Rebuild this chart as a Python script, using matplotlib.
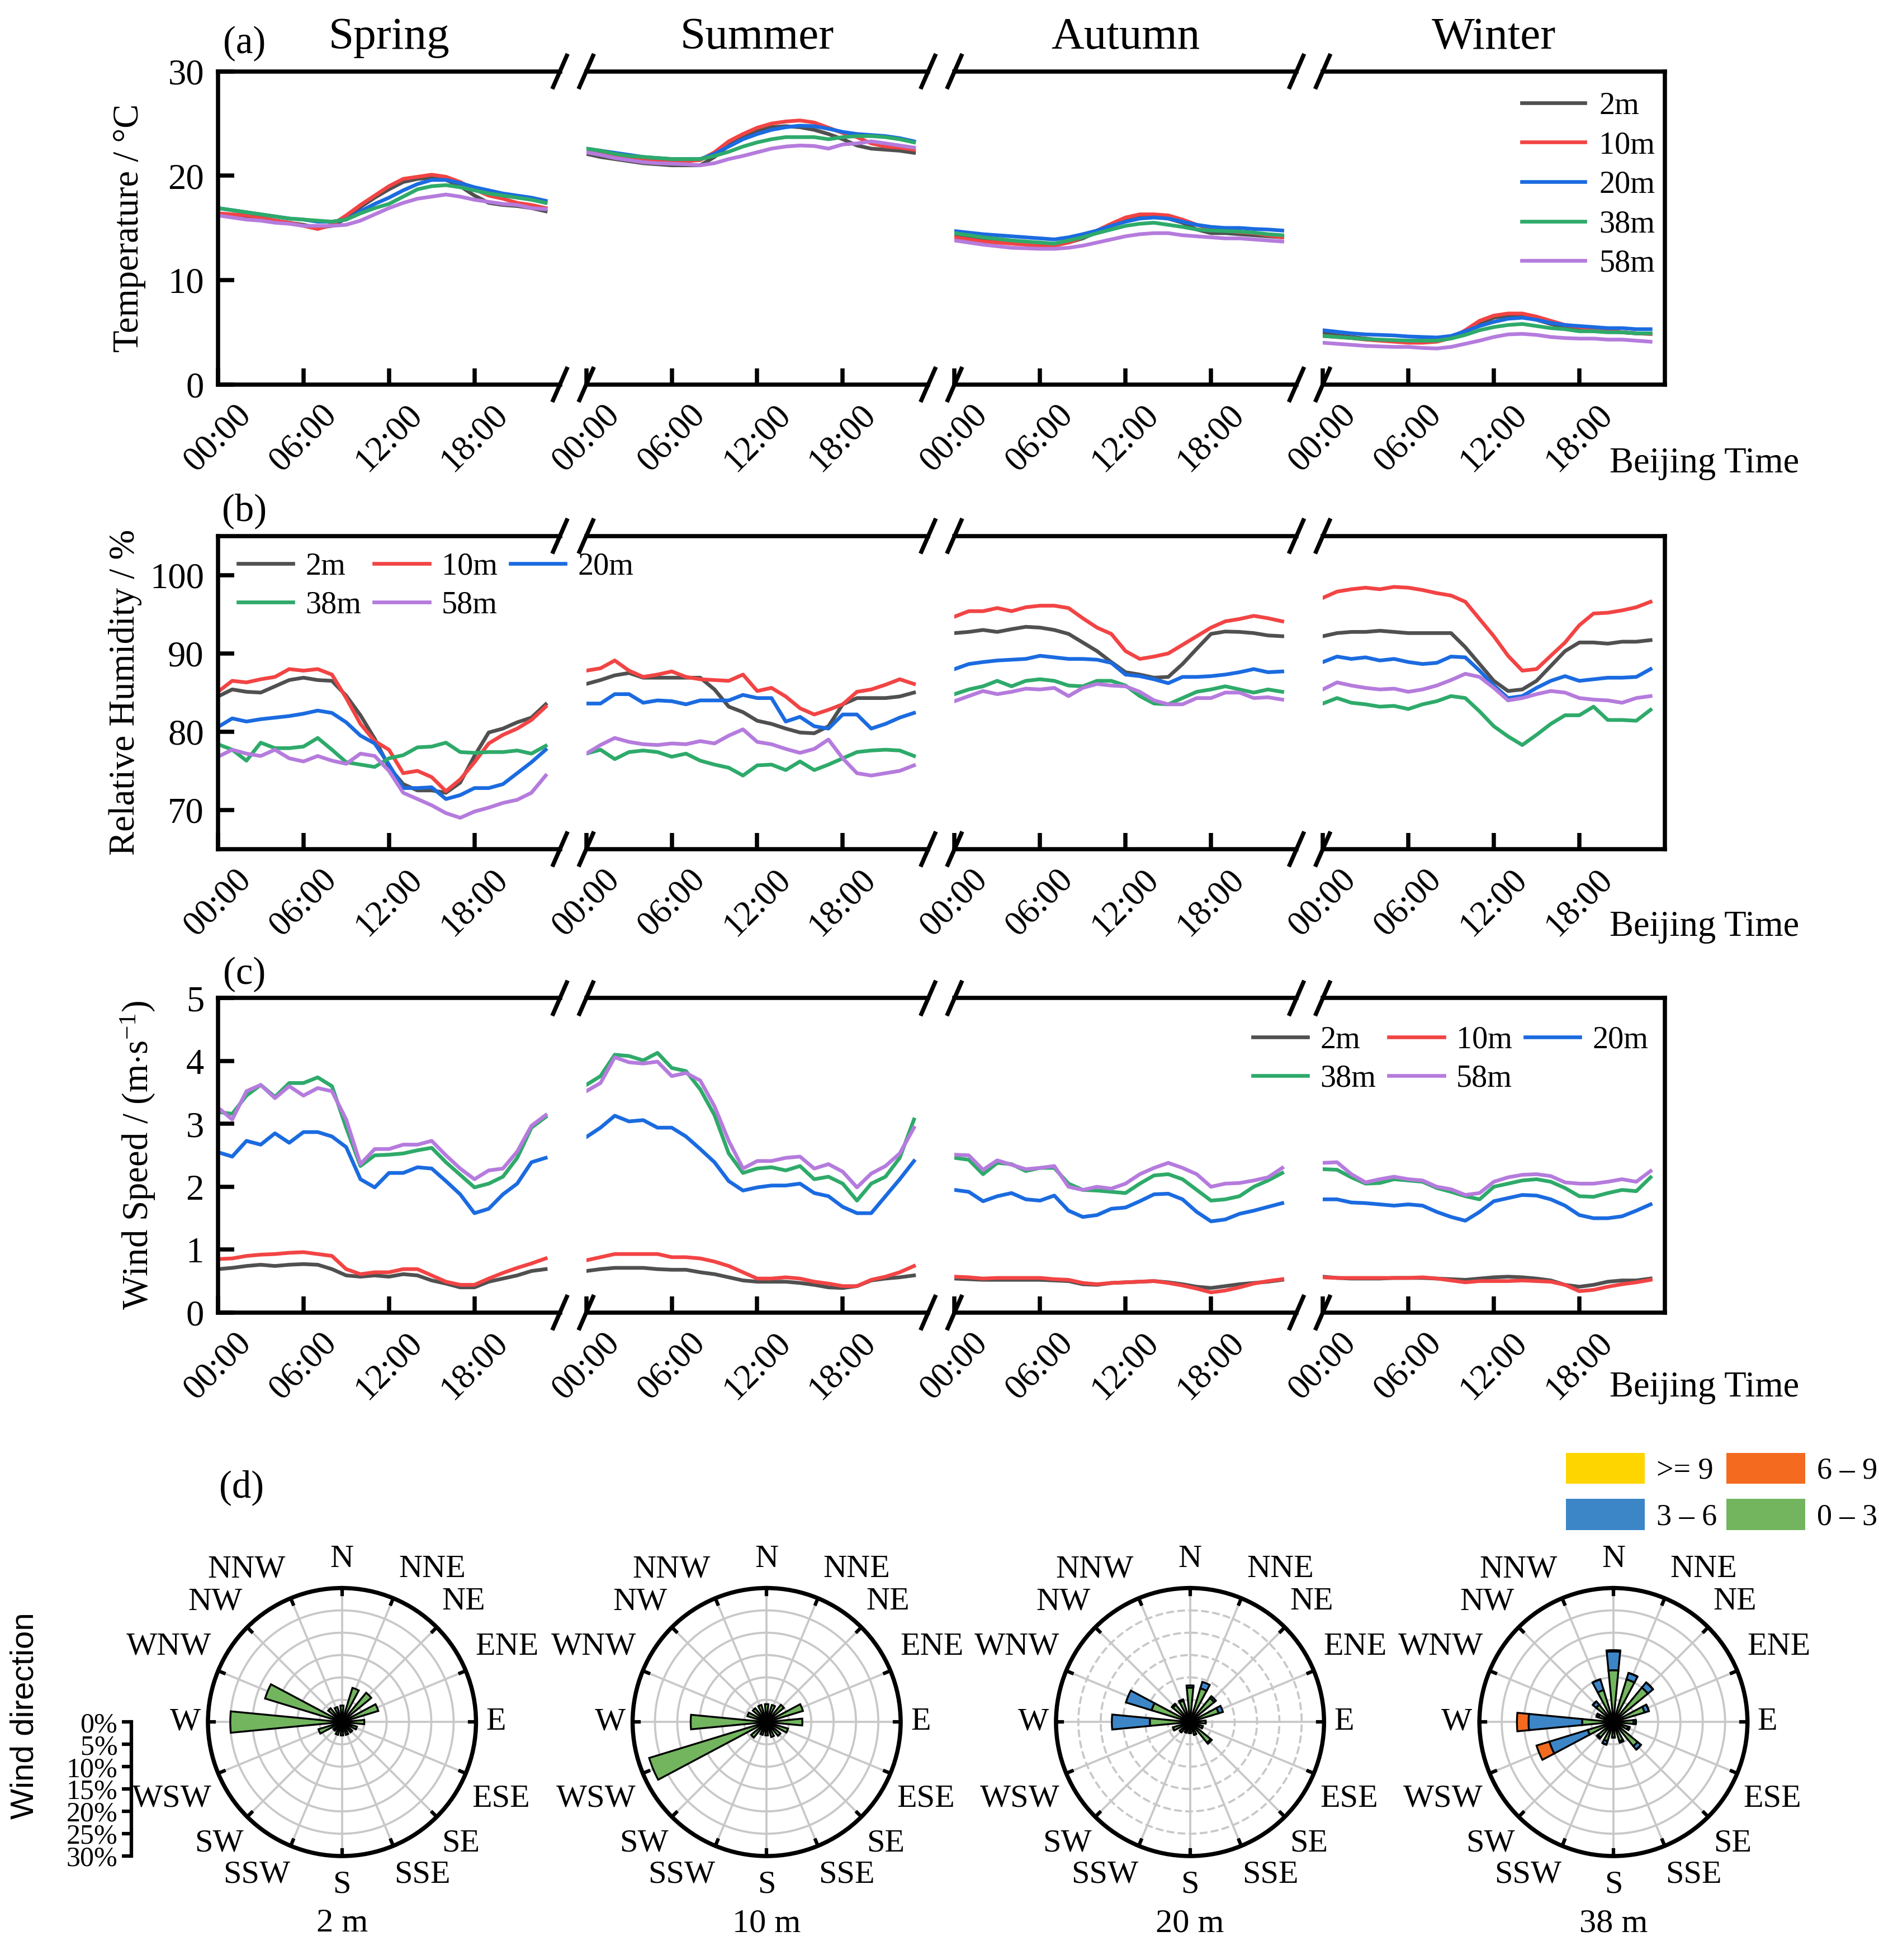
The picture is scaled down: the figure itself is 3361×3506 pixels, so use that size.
import numpy as np
import matplotlib
matplotlib.use("Agg")
import matplotlib.pyplot as plt
from matplotlib.patches import Patch

plt.rcParams.update({
    "font.family": "serif",
    "font.serif": ["Liberation Serif", "DejaVu Serif"],
    "mathtext.fontset": "custom",
    "mathtext.rm": "Liberation Serif",
    "mathtext.it": "Liberation Serif:italic",
    "font.size": 14,
    "axes.linewidth": 1.8,
})

# ---------------- data ----------------
HOURS = np.arange(24)
SEASONS = ["Spring", "Summer", "Autumn", "Winter"]
HEIGHTS = ["2m", "10m", "20m", "38m", "58m"]
COLORS = ["#505050", "#F24444", "#1B6BE0", "#2EAA6A", "#B57BDD"]
TIME_LABELS = ["00:00", "06:00", "12:00", "18:00"]

# temperature (degC), rows = 2m, 10m, 20m, 38m, 58m
T_SPRING = [
    [16.3, 16.2, 16.1, 15.9, 15.7, 15.5, 15.3, 15.0, 15.2, 15.9, 17.0, 17.9, 18.7, 19.4, 19.7, 19.8, 19.6, 19.0, 18.1, 17.4, 17.2, 17.1, 16.9, 16.6],
    [16.4, 16.3, 16.2, 16.0, 15.7, 15.5, 15.2, 14.9, 15.3, 16.2, 17.2, 18.1, 19.0, 19.7, 19.9, 20.1, 19.9, 19.4, 18.7, 18.1, 17.8, 17.4, 17.2, 16.9],
    [16.9, 16.7, 16.5, 16.3, 16.1, 15.9, 15.8, 15.6, 15.6, 15.8, 16.6, 17.3, 17.9, 18.6, 19.2, 19.6, 19.6, 19.3, 18.9, 18.6, 18.3, 18.1, 17.9, 17.6],
    [16.9, 16.7, 16.5, 16.3, 16.1, 15.9, 15.8, 15.7, 15.6, 15.8, 16.4, 16.9, 17.3, 18.0, 18.7, 19.0, 19.1, 18.9, 18.6, 18.3, 18.1, 17.9, 17.7, 17.4],
    [16.2, 16.0, 15.8, 15.7, 15.5, 15.4, 15.2, 15.2, 15.2, 15.3, 15.7, 16.3, 16.9, 17.4, 17.8, 18.0, 18.2, 18.0, 17.7, 17.5, 17.3, 17.2, 16.9, 16.8],
]
T_SUMMER = [
    [22.1, 21.8, 21.6, 21.4, 21.2, 21.1, 21.0, 21.0, 21.0, 21.8, 22.9, 23.7, 24.3, 24.65, 24.75, 24.65, 24.4, 24.0, 23.5, 22.9, 22.6, 22.5, 22.4, 22.2],
    [22.3, 22.1, 21.9, 21.7, 21.6, 21.5, 21.4, 21.4, 21.5, 22.25, 23.3, 24.0, 24.6, 25.0, 25.2, 25.3, 25.1, 24.6, 24.1, 23.7, 23.1, 22.8, 22.7, 22.5],
    [22.6, 22.4, 22.2, 22.0, 21.8, 21.7, 21.6, 21.6, 21.6, 22.1, 22.8, 23.5, 24.0, 24.4, 24.65, 24.8, 24.75, 24.5, 24.2, 24.0, 23.9, 23.8, 23.6, 23.3],
    [22.6, 22.4, 22.1, 21.9, 21.8, 21.7, 21.6, 21.6, 21.6, 21.9, 22.3, 22.8, 23.2, 23.5, 23.7, 23.7, 23.7, 23.5, 23.7, 23.8, 23.8, 23.7, 23.5, 23.2],
    [22.25, 22.0, 21.7, 21.5, 21.3, 21.2, 21.15, 21.1, 21.0, 21.2, 21.6, 21.9, 22.25, 22.6, 22.8, 22.9, 22.85, 22.6, 23.0, 23.1, 23.3, 23.1, 22.9, 22.7],
]
T_AUTUMN = [
    [14.3, 14.1, 13.9, 13.8, 13.6, 13.5, 13.4, 13.4, 13.6, 14.0, 14.6, 15.2, 15.8, 16.1, 16.1, 15.9, 15.5, 14.85, 14.5, 14.5, 14.4, 14.3, 14.2, 14.1],
    [14.1, 13.9, 13.7, 13.6, 13.5, 13.4, 13.3, 13.3, 13.6, 14.1, 14.75, 15.4, 16.0, 16.3, 16.3, 16.2, 15.8, 15.3, 14.9, 14.75, 14.6, 14.5, 14.3, 14.1],
    [14.7, 14.55, 14.4, 14.3, 14.2, 14.1, 14.0, 13.9, 14.1, 14.4, 14.75, 15.2, 15.6, 15.9, 16.0, 15.9, 15.6, 15.3, 15.1, 15.0, 15.0, 14.9, 14.85, 14.75],
    [14.5, 14.3, 14.1, 13.95, 13.8, 13.7, 13.6, 13.5, 13.8, 14.1, 14.5, 14.85, 15.2, 15.4, 15.5, 15.3, 15.1, 14.85, 14.75, 14.7, 14.65, 14.55, 14.4, 14.3],
    [13.8, 13.6, 13.4, 13.25, 13.1, 13.05, 13.0, 13.0, 13.1, 13.3, 13.6, 13.9, 14.2, 14.4, 14.5, 14.5, 14.3, 14.2, 14.1, 14.0, 14.0, 13.9, 13.8, 13.7],
]
T_WINTER = [
    [4.9, 4.7, 4.55, 4.4, 4.25, 4.2, 4.1, 4.1, 4.2, 4.45, 5.0, 5.8, 6.4, 6.6, 6.5, 6.2, 5.8, 5.5, 5.3, 5.1, 5.1, 5.0, 4.9, 4.85],
    [4.65, 4.55, 4.45, 4.3, 4.2, 4.1, 4.0, 4.0, 4.1, 4.45, 5.2, 6.1, 6.6, 6.8, 6.8, 6.5, 6.1, 5.7, 5.5, 5.3, 5.2, 5.0, 4.9, 4.85],
    [5.2, 5.05, 4.9, 4.8, 4.75, 4.7, 4.6, 4.55, 4.5, 4.65, 5.1, 5.6, 6.0, 6.3, 6.4, 6.2, 5.9, 5.7, 5.6, 5.5, 5.4, 5.4, 5.3, 5.3],
    [4.65, 4.55, 4.45, 4.35, 4.3, 4.25, 4.2, 4.2, 4.2, 4.4, 4.75, 5.2, 5.5, 5.7, 5.8, 5.6, 5.4, 5.3, 5.1, 5.1, 5.0, 5.0, 4.9, 4.9],
    [4.0, 3.9, 3.8, 3.7, 3.65, 3.6, 3.6, 3.5, 3.45, 3.6, 3.9, 4.2, 4.55, 4.8, 4.85, 4.75, 4.55, 4.45, 4.4, 4.4, 4.3, 4.3, 4.2, 4.1],
]

# relative humidity (%)
RH_SPRING = [
    [84.5, 85.4, 85.1, 85.0, 85.8, 86.6, 86.9, 86.6, 86.5, 84.6, 82.1, 79.1, 75.5, 73.3, 72.5, 72.5, 72.2, 73.5, 76.9, 79.9, 80.4, 81.2, 81.8, 83.5],
    [85.1, 86.5, 86.3, 86.7, 87.0, 88.0, 87.8, 88.0, 87.3, 84.3, 81.0, 78.8, 77.7, 74.7, 75.0, 74.2, 72.4, 73.9, 76.1, 78.5, 79.6, 80.4, 81.5, 83.2],
    [80.6, 81.7, 81.3, 81.6, 81.8, 82.0, 82.3, 82.7, 82.4, 81.2, 79.5, 78.5, 75.8, 72.8, 72.8, 72.9, 71.4, 71.9, 72.8, 72.8, 73.3, 74.7, 76.1, 77.7],
    [78.4, 77.7, 76.3, 78.6, 77.9, 77.9, 78.1, 79.2, 77.7, 76.1, 75.8, 75.5, 76.6, 77.0, 78.0, 78.1, 78.6, 77.4, 77.3, 77.4, 77.4, 77.6, 77.2, 78.2],
    [76.8, 77.7, 77.2, 76.9, 77.7, 76.6, 76.2, 76.9, 76.3, 75.9, 77.2, 76.9, 75.0, 72.2, 71.4, 70.6, 69.6, 69.0, 69.8, 70.3, 70.9, 71.3, 72.2, 74.4],
]
RH_SUMMER = [
    [86.1, 86.6, 87.2, 87.5, 86.9, 86.9, 86.9, 86.9, 86.9, 85.4, 83.2, 82.5, 81.4, 81.0, 80.4, 79.9, 79.8, 80.7, 83.5, 84.3, 84.3, 84.3, 84.5, 85.0],
    [87.8, 88.1, 89.1, 87.8, 87.0, 87.3, 87.7, 87.0, 86.7, 86.6, 86.5, 87.3, 85.2, 85.6, 84.5, 83.0, 82.2, 82.8, 83.5, 85.1, 85.4, 86.0, 86.7, 86.1],
    [83.6, 83.6, 84.8, 84.8, 83.7, 84.0, 83.9, 83.5, 84.0, 84.0, 84.0, 84.7, 84.3, 84.3, 81.3, 81.9, 80.7, 80.4, 82.2, 82.2, 80.4, 81.0, 81.8, 82.4],
    [77.2, 77.7, 76.5, 77.4, 77.6, 77.4, 76.8, 77.2, 76.3, 75.8, 75.4, 74.4, 75.7, 75.8, 75.1, 76.2, 75.1, 75.8, 76.6, 77.4, 77.6, 77.7, 77.6, 76.9],
    [77.2, 78.3, 79.2, 78.7, 78.4, 78.3, 78.5, 78.4, 78.8, 78.5, 79.5, 80.3, 78.7, 78.4, 77.8, 77.3, 77.8, 79.0, 76.6, 74.7, 74.4, 74.7, 75.0, 75.7],
]
RH_AUTUMN = [
    [92.6, 92.75, 93.0, 92.75, 93.1, 93.4, 93.3, 93.0, 92.5, 91.4, 90.3, 88.9, 87.6, 87.3, 86.9, 87.0, 88.65, 90.6, 92.5, 92.8, 92.75, 92.6, 92.3, 92.2],
    [94.7, 95.4, 95.4, 95.8, 95.4, 95.9, 96.1, 96.1, 95.8, 94.5, 93.3, 92.5, 90.3, 89.3, 89.6, 90.0, 91.1, 92.2, 93.3, 94.1, 94.4, 94.8, 94.5, 94.1],
    [88.0, 88.65, 88.9, 89.1, 89.2, 89.3, 89.7, 89.5, 89.3, 89.3, 89.2, 88.8, 87.3, 87.1, 86.7, 86.2, 87.0, 87.0, 87.1, 87.3, 87.6, 88.0, 87.6, 87.7],
    [84.8, 85.4, 85.8, 86.5, 85.8, 86.5, 86.7, 86.5, 85.9, 85.8, 86.5, 86.5, 85.9, 84.55, 83.6, 83.5, 84.3, 85.1, 85.4, 85.8, 85.4, 85.0, 85.4, 85.1],
    [83.9, 84.55, 85.2, 84.8, 85.1, 85.5, 85.4, 85.6, 84.55, 85.6, 86.1, 85.9, 85.8, 85.1, 84.0, 83.5, 83.5, 84.3, 84.3, 85.0, 85.0, 84.3, 84.4, 84.1],
]
RH_WINTER = [
    [92.2, 92.6, 92.75, 92.75, 92.9, 92.75, 92.6, 92.6, 92.6, 92.6, 90.8, 88.65, 86.5, 85.2, 85.4, 86.5, 88.4, 90.3, 91.4, 91.4, 91.25, 91.5, 91.5, 91.7],
    [97.1, 97.9, 98.2, 98.4, 98.2, 98.5, 98.4, 98.1, 97.7, 97.4, 96.6, 94.4, 92.2, 89.7, 87.8, 88.0, 89.7, 91.4, 93.6, 95.1, 95.2, 95.5, 95.9, 96.6],
    [88.9, 89.6, 89.3, 89.5, 89.1, 89.3, 88.9, 88.65, 88.8, 89.6, 89.5, 87.8, 85.9, 84.3, 84.55, 85.6, 86.5, 87.1, 86.5, 86.7, 86.9, 86.9, 87.0, 88.0],
    [83.6, 84.3, 83.7, 83.5, 83.2, 83.3, 82.9, 83.5, 83.9, 84.55, 84.3, 82.6, 80.7, 79.4, 78.3, 79.6, 81.0, 82.1, 82.1, 83.2, 81.5, 81.5, 81.4, 82.8],
    [85.4, 86.3, 85.9, 85.6, 85.4, 85.5, 85.1, 85.4, 85.9, 86.6, 87.4, 87.0, 85.6, 84.0, 84.3, 84.8, 85.2, 85.0, 84.3, 84.1, 84.0, 83.7, 84.3, 84.55],
]

# wind speed (m/s)
WS_SPRING = [
    [0.69, 0.71, 0.74, 0.76, 0.74, 0.76, 0.77, 0.76, 0.69, 0.59, 0.57, 0.59, 0.57, 0.61, 0.59, 0.51, 0.46, 0.40, 0.40, 0.49, 0.54, 0.59, 0.66, 0.69],
    [0.85, 0.86, 0.90, 0.92, 0.93, 0.95, 0.96, 0.93, 0.90, 0.69, 0.61, 0.64, 0.64, 0.69, 0.69, 0.59, 0.49, 0.44, 0.44, 0.54, 0.63, 0.71, 0.78, 0.86],
    [2.55, 2.48, 2.73, 2.67, 2.85, 2.70, 2.87, 2.87, 2.80, 2.63, 2.12, 1.99, 2.22, 2.22, 2.31, 2.29, 2.09, 1.88, 1.58, 1.65, 1.88, 2.05, 2.39, 2.46],
    [3.19, 3.16, 3.45, 3.62, 3.43, 3.65, 3.65, 3.74, 3.60, 2.94, 2.33, 2.50, 2.51, 2.53, 2.58, 2.62, 2.39, 2.19, 1.99, 2.05, 2.16, 2.46, 2.94, 3.11],
    [3.26, 3.07, 3.52, 3.62, 3.41, 3.60, 3.45, 3.57, 3.52, 3.07, 2.36, 2.60, 2.60, 2.67, 2.67, 2.73, 2.50, 2.29, 2.12, 2.26, 2.29, 2.56, 2.97, 3.14],
]
WS_SUMMER = [
    [0.66, 0.69, 0.71, 0.71, 0.71, 0.69, 0.68, 0.68, 0.64, 0.61, 0.56, 0.51, 0.49, 0.49, 0.49, 0.47, 0.44, 0.40, 0.39, 0.42, 0.51, 0.54, 0.56, 0.59],
    [0.83, 0.88, 0.93, 0.93, 0.93, 0.93, 0.88, 0.88, 0.86, 0.81, 0.74, 0.64, 0.54, 0.54, 0.56, 0.54, 0.49, 0.46, 0.42, 0.42, 0.52, 0.57, 0.64, 0.74],
    [2.79, 2.94, 3.13, 3.04, 3.06, 2.94, 2.94, 2.80, 2.60, 2.39, 2.09, 1.94, 1.99, 2.02, 2.02, 2.05, 1.90, 1.85, 1.68, 1.58, 1.58, 1.85, 2.12, 2.41],
    [3.62, 3.76, 4.10, 4.08, 4.01, 4.13, 3.89, 3.84, 3.55, 3.14, 2.53, 2.22, 2.29, 2.31, 2.26, 2.33, 2.12, 2.16, 2.05, 1.78, 2.05, 2.16, 2.46, 3.07],
    [3.52, 3.65, 4.06, 3.98, 3.96, 3.99, 3.76, 3.81, 3.69, 3.28, 2.73, 2.29, 2.41, 2.41, 2.46, 2.48, 2.29, 2.36, 2.24, 1.99, 2.21, 2.33, 2.53, 2.94],
]
WS_AUTUMN = [
    [0.54, 0.53, 0.52, 0.52, 0.52, 0.52, 0.52, 0.51, 0.50, 0.45, 0.44, 0.47, 0.48, 0.49, 0.50, 0.48, 0.45, 0.41, 0.39, 0.42, 0.45, 0.47, 0.49, 0.52],
    [0.57, 0.56, 0.54, 0.55, 0.55, 0.55, 0.55, 0.53, 0.52, 0.47, 0.45, 0.47, 0.48, 0.49, 0.50, 0.47, 0.43, 0.38, 0.32, 0.35, 0.40, 0.46, 0.50, 0.53],
    [1.95, 1.92, 1.77, 1.85, 1.90, 1.80, 1.78, 1.86, 1.62, 1.52, 1.55, 1.65, 1.67, 1.77, 1.88, 1.89, 1.80, 1.60, 1.45, 1.48, 1.57, 1.62, 1.68, 1.74],
    [2.46, 2.43, 2.20, 2.38, 2.36, 2.25, 2.30, 2.30, 2.05, 1.95, 1.94, 1.92, 1.90, 2.05, 2.18, 2.20, 2.12, 1.95, 1.78, 1.80, 1.85, 2.00, 2.10, 2.22],
    [2.51, 2.50, 2.27, 2.42, 2.35, 2.28, 2.30, 2.33, 2.00, 1.95, 2.00, 1.97, 2.05, 2.20, 2.30, 2.38, 2.30, 2.20, 2.00, 2.05, 2.06, 2.10, 2.15, 2.30],
]
WS_WINTER = [
    [0.57, 0.55, 0.54, 0.54, 0.54, 0.55, 0.55, 0.55, 0.54, 0.53, 0.52, 0.54, 0.56, 0.57, 0.56, 0.54, 0.51, 0.44, 0.41, 0.44, 0.49, 0.51, 0.51, 0.54],
    [0.56, 0.55, 0.55, 0.55, 0.55, 0.55, 0.55, 0.56, 0.54, 0.51, 0.48, 0.50, 0.50, 0.50, 0.51, 0.50, 0.49, 0.44, 0.34, 0.36, 0.41, 0.45, 0.48, 0.52],
    [1.80, 1.80, 1.75, 1.74, 1.72, 1.70, 1.72, 1.70, 1.60, 1.52, 1.46, 1.60, 1.77, 1.82, 1.87, 1.86, 1.80, 1.70, 1.55, 1.50, 1.50, 1.53, 1.62, 1.72],
    [2.28, 2.27, 2.15, 2.05, 2.06, 2.12, 2.10, 2.08, 1.98, 1.92, 1.85, 1.80, 2.00, 2.05, 2.10, 2.12, 2.08, 1.98, 1.85, 1.84, 1.90, 1.95, 1.93, 2.15],
    [2.38, 2.39, 2.20, 2.07, 2.12, 2.16, 2.12, 2.10, 2.00, 1.96, 1.87, 1.90, 2.08, 2.15, 2.19, 2.20, 2.17, 2.07, 2.05, 2.05, 2.08, 2.12, 2.08, 2.25],
]

# wind rose frequencies (%), 16 directions clockwise from N
DIRECTIONS = ["N", "NNE", "NE", "ENE", "E", "ESE", "SE", "SSE",
              "S", "SSW", "SW", "WSW", "W", "WNW", "NW", "NNW"]
ROSE_2M_0_3 = [3.7, 8.0, 8.5, 8.5, 5.0, 3.5, 3.0, 3.0, 3.0, 3.0, 2.5, 5.5, 25.0, 18.0, 4.0, 3.5]
ROSE_10M_0_3 = [4.0, 4.0, 5.0, 8.5, 8.0, 5.0, 4.0, 3.5, 3.0, 3.0, 4.5, 27.5, 17.0, 4.5, 4.0, 4.0]
ROSE_20M_0_3 = [7.7, 7.9, 7.0, 6.7, 3.5, 3.0, 6.0, 3.0, 2.5, 2.5, 3.0, 4.0, 9.0, 9.0, 5.0, 5.0]
ROSE_20M_3_6 = [0.5, 1.5, 0.5, 1.0, 0.0, 0.0, 0.3, 0.0, 0.0, 0.0, 0.0, 0.0, 8.5, 6.0, 0.3, 0.3]
ROSE_38M_0_3 = [11.6, 10.0, 10.0, 7.3, 4.5, 3.5, 7.0, 4.5, 3.5, 4.5, 4.5, 6.0, 7.0, 3.5, 5.0, 7.5]
ROSE_38M_3_6 = [4.2, 1.5, 1.5, 1.0, 0.5, 0.3, 1.0, 0.3, 0.0, 0.8, 0.3, 9.0, 12.0, 0.5, 1.0, 2.5]
ROSE_38M_6_9 = [0.3, 0.0, 0.0, 0.0, 0.0, 0.0, 0.0, 0.0, 0.0, 0.0, 0.0, 3.0, 2.6, 0.0, 0.0, 0.0]
ROSE_TITLES = ["2 m", "10 m", "20 m", "38 m"]
SPEED_COLORS = {"0-3": "#72B55E", "3-6": "#3C86C8", "6-9": "#F46A1F", ">=9": "#FFD500"}

# ---------------- layout helpers (reference pixel grid 1500 x 1565) ----------------
RW, RH_ = 1500.0, 1565.0
fig = plt.figure(figsize=(3361 / 300, 3506 / 300), dpi=300)


def fx(x):
    return x / RW


def fy(y):
    return 1 - y / RH_


SEG_LEFT, SEG_W, SEG_GAP = 174, 273, 21
BREAK_KW = dict(color="k", lw=1.8, clip_on=False)


def break_mark(ax, x):
    dx, dy = 0.02, 0.05
    for y in (0, 1):
        ax.plot([x - dx, x + dx], [y - dy, y + dy], transform=ax.transAxes, **BREAK_KW)


def season_row(top, bottom, series, ylim, yticks, ylabel, ylab_x):
    axes = []
    for i, data in enumerate(series):
        left = SEG_LEFT + i * (SEG_W + SEG_GAP)
        ax = fig.add_axes([fx(left), fy(bottom), SEG_W / RW, (bottom - top) / RH_])
        ax.patch.set_alpha(0)
        for k, vals in enumerate(data):
            ax.plot(HOURS, vals, color=COLORS[k], lw=1.6, label=HEIGHTS[k])
        ax.set_xlim(0, 24)
        ax.set_ylim(*ylim)
        ax.set_xticks([0, 6, 12, 18])
        ax.set_xticklabels(TIME_LABELS, rotation=45, ha="center")
        ax.tick_params(axis="x", direction="in", length=7, width=1.8, pad=6, labelsize=15)
        ax.spines["left"].set_visible(i == 0)
        ax.spines["right"].set_visible(i == 3)
        if i == 0:
            ax.set_yticks(yticks)
            ax.tick_params(axis="y", direction="in", length=7, width=1.8, labelsize=15.5, pad=6)
        else:
            ax.tick_params(axis="y", left=False, labelleft=False)
        if i < 3:
            break_mark(ax, 1)
        if i > 0:
            break_mark(ax, 0)
        axes.append(ax)
    fig.text(fx(ylab_x), fy((top + bottom) / 2), ylabel, rotation=90,
             ha="center", va="center", fontsize=15.5)
    return axes


# ---------------- panels a-c ----------------
axes_a = season_row(57, 307, [T_SPRING, T_SUMMER, T_AUTUMN, T_WINTER],
                    (0, 30), [0, 10, 20, 30], "Temperature / \u00b0C", 103)
axes_b = season_row(428, 678, [RH_SPRING, RH_SUMMER, RH_AUTUMN, RH_WINTER],
                    (65, 105), [70, 80, 90, 100], "Relative Humidity / %", 100)
axes_c = season_row(797, 1048, [WS_SPRING, WS_SUMMER, WS_AUTUMN, WS_WINTER],
                    (0, 5), [0, 1, 2, 3, 4, 5], r"Wind Speed / (m$\cdot$s$^{-1}$)", 110)

for i, name in enumerate(SEASONS):
    cx = SEG_LEFT + i * (SEG_W + SEG_GAP) + SEG_W / 2
    fig.text(fx(cx), fy(30), name, ha="center", va="center", fontsize=19.5)

for lab, (x, y) in zip(["(a)", "(b)", "(c)", "(d)"],
                       [(195, 35), (195, 408), (195, 778), (193, 1188)]):
    fig.text(fx(x), fy(y), lab, ha="center", va="center", fontsize=16.5)

for y in (370, 740, 1108):
    fig.text(fx(1285), fy(y), "Beijing Time", ha="left", va="center", fontsize=15.5)

handles, labels = axes_a[0].get_legend_handles_labels()
fig.legend(handles, labels, loc="upper left", bbox_to_anchor=(fx(1215), fy(73)),
           frameon=False, fontsize=13.5, handlelength=2.0, handletextpad=0.45,
           labelspacing=0.33, borderpad=0, borderaxespad=0)

order = [0, 3, 1, 4, 2]
hb, lb = axes_b[0].get_legend_handles_labels()
fig.legend([hb[k] for k in order], [lb[k] for k in order], loc="upper left",
           bbox_to_anchor=(fx(190), fy(441)), ncol=3, frameon=False, fontsize=13.5,
           handlelength=1.75, handletextpad=0.4, columnspacing=0.4,
           labelspacing=0.3, borderpad=0, borderaxespad=0)
hc, lc = axes_c[0].get_legend_handles_labels()
fig.legend([hc[k] for k in order], [lc[k] for k in order], loc="upper left",
           bbox_to_anchor=(fx(1000), fy(819)), ncol=3, frameon=False, fontsize=13.5,
           handlelength=1.75, handletextpad=0.4, columnspacing=0.4,
           labelspacing=0.3, borderpad=0, borderaxespad=0)

# ---------------- panel d: wind roses ----------------
theta = np.deg2rad(np.arange(16) * 22.5)
ROSE_STACKS = [
    [("0-3", ROSE_2M_0_3)],
    [("0-3", ROSE_10M_0_3)],
    [("0-3", ROSE_20M_0_3), ("3-6", ROSE_20M_3_6)],
    [("0-3", ROSE_38M_0_3), ("3-6", ROSE_38M_3_6), ("6-9", ROSE_38M_6_9)],
]
ROSE_CX = [273, 612, 950, 1288]
ROSE_CY, ROSE_R = 1375, 107
# direction-label centres relative to each rose centre (reference px)
LABEL_OFFSETS = [(0, -130), (72, -122), (97, -96), (132, -60), (123, 0), (127, 61),
                 (95, 97), (64, 122), (0, 130), (-68, 122), (-98, 97), (-136, 61),
                 (-125, 0), (-138, -60), (-101, -96), (-76, -122)]

for j, (cx, stacks) in enumerate(zip(ROSE_CX, ROSE_STACKS)):
    ax = fig.add_axes([fx(cx - ROSE_R), fy(ROSE_CY + ROSE_R), 2 * ROSE_R / RW, 2 * ROSE_R / RH_],
                      projection="polar")
    ax.set_theta_zero_location("N")
    ax.set_theta_direction(-1)
    bottom = np.zeros(16)
    for cls, vals in stacks:
        ax.bar(theta, vals, width=np.deg2rad(11), bottom=bottom, color=SPEED_COLORS[cls],
               edgecolor="black", linewidth=0.8, zorder=3)
        bottom = bottom + np.array(vals)
    ax.set_ylim(0, 30)
    ax.set_yticks([5, 10, 15, 20, 25])
    ax.set_yticklabels([])
    ax.set_xticks(theta)
    ax.set_xticklabels([])
    ax.grid(True, color="#c8c8c8", lw=0.9, linestyle="--" if j == 2 else "-")
    ax.xaxis.grid(True, color="#c8c8c8", lw=0.9, linestyle="-")
    ax.spines["polar"].set_linewidth(1.8)
    for t in theta:
        ax.plot([t, t], [28.6, 30], color="black", lw=1.5, zorder=4, clip_on=False)
    for name, (dx, dy) in zip(DIRECTIONS, LABEL_OFFSETS):
        fig.text(fx(cx + dx), fy(ROSE_CY + dy), name, ha="center", va="center", fontsize=14)
    fig.text(fx(cx), fy(1536), ROSE_TITLES[j], ha="center", va="center", fontsize=14.5)

# radial scale bar for the roses
sax = fig.add_axes([fx(105), fy(ROSE_CY + ROSE_R), 0.0005, ROSE_R / RH_])
sax.set_ylim(30, 0)
sax.set_xticks([])
sax.set_yticks([0, 5, 10, 15, 20, 25, 30])
sax.set_yticklabels([f"{v}%" for v in [0, 5, 10, 15, 20, 25, 30]])
for s in ("top", "right", "bottom"):
    sax.spines[s].set_visible(False)
sax.spines["left"].set_linewidth(1.5)
sax.tick_params(axis="y", direction="out", length=4, width=1.5, labelsize=12, pad=2)
fig.text(fx(20), fy(1370), "Wind direction", rotation=90, ha="center", va="center",
         fontsize=14, family="Liberation Sans")

# speed legend
rose_handles = [Patch(facecolor=SPEED_COLORS[">=9"]), Patch(facecolor=SPEED_COLORS["3-6"]),
                Patch(facecolor=SPEED_COLORS["6-9"]), Patch(facecolor=SPEED_COLORS["0-3"])]
fig.legend(rose_handles, [">= 9", "3 \u2013 6", "6 \u2013 9", "0 \u2013 3"], ncol=2,
           loc="upper left", bbox_to_anchor=(fx(1250), fy(1160)), frameon=False,
           fontsize=13, handlelength=2.6, handleheight=1.2, handletextpad=0.4,
           columnspacing=0.3, labelspacing=0.45, borderpad=0, borderaxespad=0)

fig.savefig("out.png", dpi=300)
